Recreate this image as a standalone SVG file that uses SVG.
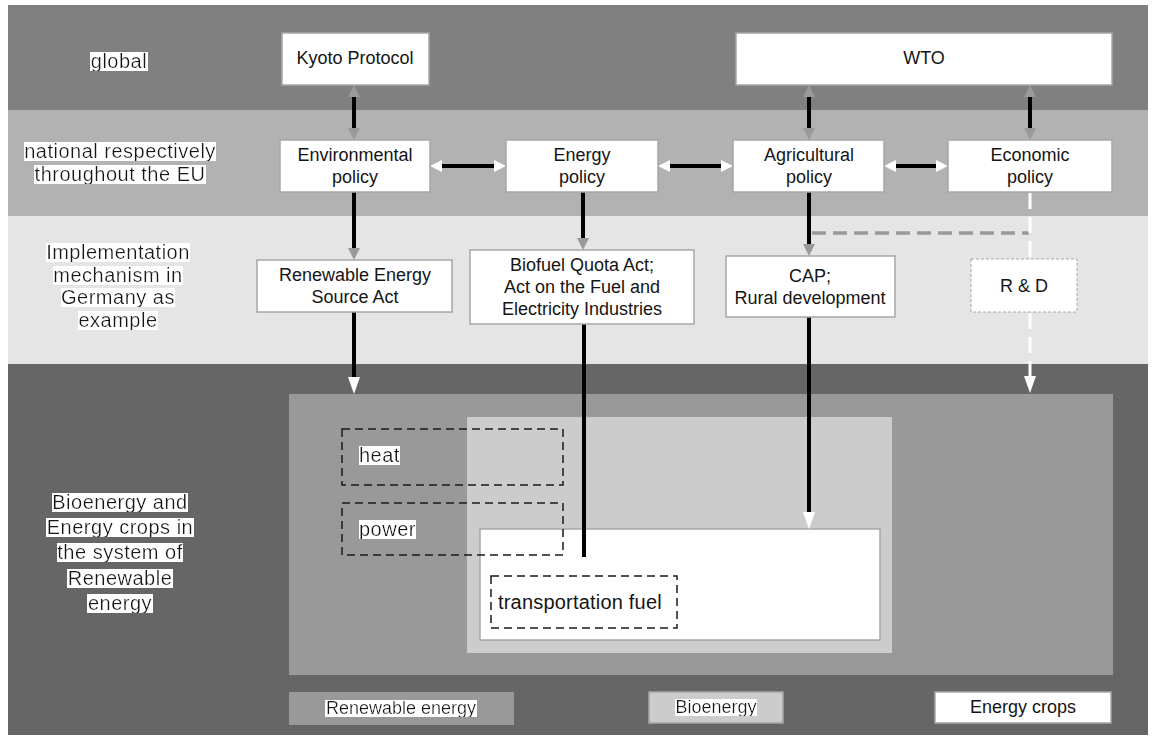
<svg xmlns="http://www.w3.org/2000/svg" width="1155" height="737" viewBox="0 0 1155 737">
<style>
text{font-family:"Liberation Sans",Arial,sans-serif;fill:#151515;}
.t18{font-size:18px;text-anchor:middle;dominant-baseline:central;}
.lab{font-size:20px;letter-spacing:0.5px;text-anchor:middle;dominant-baseline:central;filter:url(#hl);}
.lab18{font-size:18px;text-anchor:middle;dominant-baseline:central;filter:url(#hl);}
.labl{font-size:20px;letter-spacing:0.5px;dominant-baseline:central;}
.box{fill:#fff;stroke:#a6a6a6;stroke-width:1.5;}
.dbox{fill:none;stroke:#1a1a1a;stroke-width:1.5;stroke-dasharray:8 5;}
.blk{stroke:#000;stroke-width:4;fill:none;}
</style>
<defs>
<filter id="hl" x="0" y="0.1" width="1" height="0.82"><feFlood flood-color="#fff"/><feComposite in="SourceGraphic" operator="over"/></filter>
<marker id="ag" markerUnits="userSpaceOnUse" markerWidth="12" markerHeight="12" refX="0" refY="6" orient="auto-start-reverse"><path d="M0,0 L12,6 L0,12 z" fill="#999"/></marker>
<marker id="aw" markerUnits="userSpaceOnUse" markerWidth="12" markerHeight="12" refX="0" refY="6" orient="auto-start-reverse"><path d="M0,0 L12,6 L0,12 z" fill="#fff"/></marker>
<marker id="awl" markerUnits="userSpaceOnUse" markerWidth="17" markerHeight="12" refX="0" refY="6" orient="auto"><path d="M0,0 L17,6 L0,12 z" fill="#fff"/></marker>
</defs>

<!-- background bands -->
<rect x="8" y="5" width="1140" height="105" fill="#808080"/>
<rect x="8" y="110" width="1140" height="106" fill="#b2b2b2"/>
<rect x="8" y="216" width="1140" height="148" fill="#e5e5e5"/>
<rect x="8" y="364" width="1140" height="371" fill="#666666"/>

<!-- level labels -->
<g id="label-global"><text class="lab" x="119" y="61">global</text></g>
<g id="label-national">
<text class="lab" x="120" y="151">national respectively</text>
<text class="lab" x="120" y="174">throughout the EU</text>
</g>
<g id="label-implementation">
<text class="lab" x="118" y="252">Implementation</text>
<text class="lab" x="118" y="275">mechanism in</text>
<text class="lab" x="118" y="297">Germany as</text>
<text class="lab" x="118" y="320">example</text>
</g>
<g id="label-bioenergy">
<text class="lab" x="120" y="502">Bioenergy and</text>
<text class="lab" x="120" y="527">Energy crops in</text>
<text class="lab" x="120" y="552">the system of</text>
<text class="lab" x="120" y="578">Renewable</text>
<text class="lab" x="120" y="603">energy</text>
</g>

<!-- energy system areas -->
<g id="renewable-area"><rect x="289" y="394" width="824" height="281" fill="#999999"/></g>
<g id="bioenergy-area"><rect x="467" y="417" width="425" height="236" fill="#cccccc"/></g>
<g id="energycrops-area"><rect x="480" y="529" width="400" height="111" class="box"/></g>
<g id="heat"><rect x="342" y="429" width="221" height="56" class="dbox"/><text class="labl" x="359" y="455" filter="url(#hl)">heat</text></g>
<g id="power"><rect x="342" y="503" width="221" height="52" class="dbox"/><text class="labl" x="359" y="529" filter="url(#hl)">power</text></g>
<g id="transport"><rect x="491" y="576" width="186" height="52" class="dbox"/><text class="labl" x="498" y="602" style="letter-spacing:0.2px">transportation fuel</text></g>

<!-- legend -->
<g id="legend-renewable"><rect x="289" y="692" width="225" height="33" fill="#999999"/><text class="lab18" x="401" y="708">Renewable energy</text></g>
<g id="legend-bioenergy"><rect x="649" y="692" width="134" height="31" fill="#cccccc" stroke="#a6a6a6" stroke-width="1.5"/><text class="lab18" x="716" y="707">Bioenergy</text></g>
<g id="legend-energycrops"><rect x="935" y="692" width="176" height="31" class="box"/><text class="t18" x="1023" y="707">Energy crops</text></g>

<!-- connectors -->
<g id="connectors">
<line class="blk" x1="354" y1="97" x2="354" y2="128" marker-start="url(#ag)" marker-end="url(#ag)"/>
<line class="blk" x1="809" y1="97" x2="809" y2="128" marker-start="url(#ag)" marker-end="url(#ag)"/>
<line class="blk" x1="1030" y1="97" x2="1030" y2="128" marker-start="url(#ag)" marker-end="url(#ag)"/>
<line class="blk" x1="442" y1="166" x2="494" y2="166" marker-start="url(#aw)" marker-end="url(#aw)"/>
<line class="blk" x1="670" y1="166" x2="721" y2="166" marker-start="url(#aw)" marker-end="url(#aw)"/>
<line class="blk" x1="896" y1="166" x2="936" y2="166" marker-start="url(#aw)" marker-end="url(#aw)"/>
<line class="blk" x1="354" y1="192" x2="354" y2="248" marker-end="url(#ag)"/>
<line class="blk" x1="583" y1="192" x2="583" y2="238" marker-end="url(#ag)"/>
<line class="blk" x1="809" y1="192" x2="809" y2="244" marker-end="url(#ag)"/>
<line class="blk" x1="354" y1="312" x2="354" y2="377" marker-end="url(#awl)"/>
<line class="blk" x1="584" y1="324" x2="584" y2="557"/>
<line class="blk" x1="809" y1="317" x2="809" y2="512" marker-end="url(#awl)"/>
<line x1="812" y1="233" x2="1029" y2="233" stroke="#999" stroke-width="3.5" stroke-dasharray="14 7"/>
<line x1="1030" y1="193" x2="1030" y2="376" stroke="#fff" stroke-width="3" stroke-dasharray="16 8" marker-end="url(#awl)"/>
</g>

<!-- nodes -->
<g id="kyoto"><rect x="282" y="33" width="147" height="52" class="box"/><text class="t18" x="355" y="58">Kyoto Protocol</text></g>
<g id="wto"><rect x="736" y="33" width="376" height="52" class="box"/><text class="t18" x="924" y="58">WTO</text></g>
<g id="environmental"><rect x="280" y="140" width="150" height="52" class="box"/><text class="t18" x="355" y="155">Environmental</text><text class="t18" x="355" y="177">policy</text></g>
<g id="energy"><rect x="506" y="140" width="152" height="52" class="box"/><text class="t18" x="582" y="155">Energy</text><text class="t18" x="582" y="177">policy</text></g>
<g id="agricultural"><rect x="733" y="140" width="151" height="52" class="box"/><text class="t18" x="809" y="155">Agricultural</text><text class="t18" x="809" y="177">policy</text></g>
<g id="economic"><rect x="948" y="140" width="164" height="52" class="box"/><text class="t18" x="1030" y="155">Economic</text><text class="t18" x="1030" y="177">policy</text></g>
<g id="res-act"><rect x="257" y="260" width="195" height="52" class="box"/><text class="t18" x="355" y="275">Renewable Energy</text><text class="t18" x="355" y="297">Source Act</text></g>
<g id="biofuel-act"><rect x="470" y="250" width="224" height="74" class="box"/><text class="t18" x="582" y="265">Biofuel Quota Act;</text><text class="t18" x="582" y="287">Act on the Fuel and</text><text class="t18" x="582" y="309">Electricity Industries</text></g>
<g id="cap"><rect x="726" y="256" width="169" height="61" class="box"/><text class="t18" x="810" y="276">CAP;</text><text class="t18" x="810" y="298">Rural development</text></g>
<g id="rd"><rect x="971" y="259" width="106" height="53" fill="#fff" stroke="#a6a6a6" stroke-width="1" stroke-dasharray="3 2"/><text class="t18" x="1024" y="286">R &amp; D</text></g>
</svg>
